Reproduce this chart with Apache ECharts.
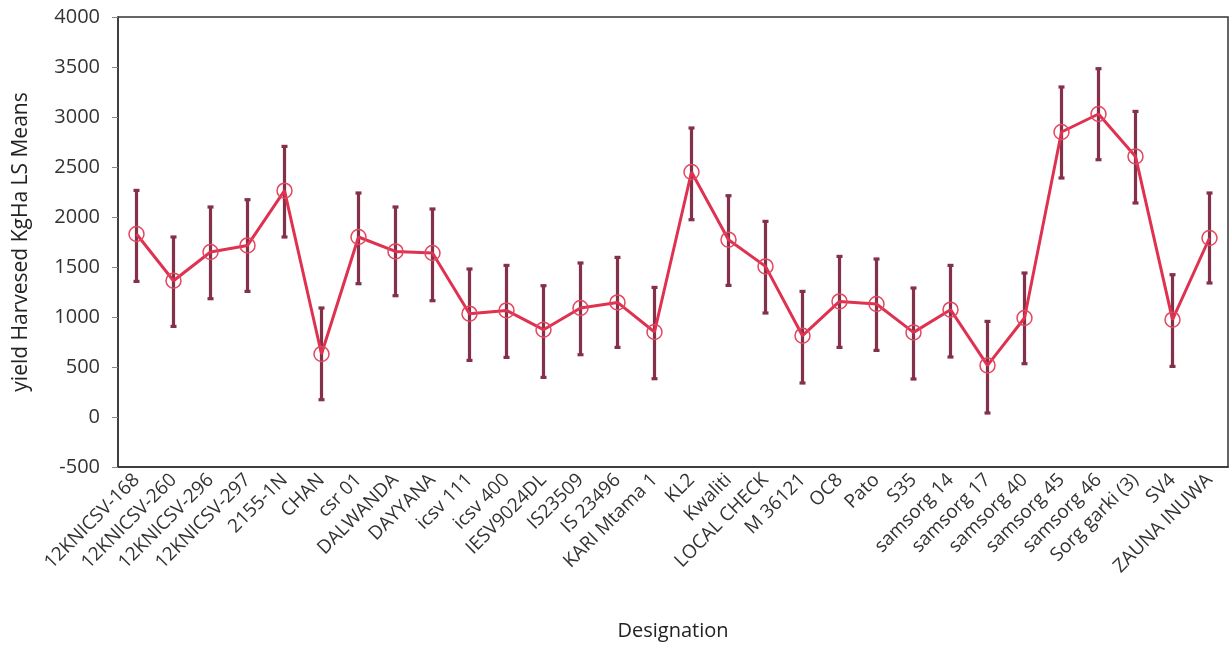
<!DOCTYPE html>
<html>
<head>
<meta charset="utf-8">
<script src="https://cdn.jsdelivr.net/npm/echarts@6/dist/echarts.min.js"></script>
<style>
html,body{margin:0;padding:0;background:#fff;}
#chart{width:1229px;height:646px;}
</style>
</head>
<body>
<div id="chart"></div>
<script>
const categories = ["12KNICSV-168","12KNICSV-260","12KNICSV-296","12KNICSV-297","2155-1N","CHAN","csr 01","DALWANDA","DAYYANA","icsv 111","icsv 400","IESV9024DL","IS23509","IS 23496","KARI Mtama 1","KL2","Kwaliti","LOCAL CHECK","M 36121","OC8","Pato","S35","samsorg 14","samsorg 17","samsorg 40","samsorg 45","samsorg 46","Sorg garki (3)","SV4","ZAUNA INUWA"];
const means = [1830,1363,1650,1716,2263,630,1800,1656,1640,1033,1066,873,1090,1146,850,2450,1773,1506,813,1156,1130,846,1073,516,990,2850,3030,2606,973,1790];
const upper = [2266,1800,2100,2173,2706,1090,2240,2100,2080,1480,1516,1313,1540,1596,1296,2890,2213,1956,1256,1606,1580,1290,1516,956,1440,3300,3483,3056,1423,2240];
const lower = [1356,906,1183,1256,1800,173,1333,1213,1163,566,596,396,623,696,383,1973,1316,1040,340,696,666,380,600,40,533,2390,2573,2140,506,1340];
const yTicks = {min:-500, max:4000, interval:500};

const errData = categories.map((c,i)=>[i, lower[i], upper[i]]);
const font = "'Open Sans', 'Noto Sans', sans-serif";
const chart = echarts.init(document.getElementById('chart'), null, {renderer:'canvas'});
chart.setOption({
  animation:false,
  backgroundColor:'#fff',
  grid:{left:118, right:1, top:17, bottom:178, show:true, borderColor:'#333', borderWidth:1.5, backgroundColor:'transparent'},
  xAxis:{
    type:'category', data:categories, boundaryGap:true,
    name:'Designation', nameLocation:'middle', nameGap:154,
    nameTextStyle:{fontFamily:font, fontSize:20, color:'#222'},
    axisLine:{show:true, onZero:false, lineStyle:{color:'#333', width:1.5}},
    axisTick:{show:false},
    axisLabel:{rotate:45, interval:0, margin:10, fontFamily:font, fontSize:19, color:'#333'},
    splitLine:{show:false}
  },
  yAxis:{
    type:'value', min:yTicks.min, max:yTicks.max, interval:yTicks.interval,
    name:'yield Harvesed KgHa LS Means', nameLocation:'middle', nameGap:86,
    nameTextStyle:{fontFamily:font, fontSize:21, color:'#222'},
    axisLine:{show:true, lineStyle:{color:'#333', width:1.5}},
    axisTick:{show:true, inside:false, length:6, lineStyle:{color:'#888'}},
    axisLabel:{margin:18, fontFamily:font, fontSize:20, color:'#333', formatter:function(v){return String(v);}},
    splitLine:{show:false}
  },
  series:[
    {
      type:'custom',
      data:errData,
      z:2,
      renderItem:function(params, api){
        const x = api.value(0);
        const lo = api.coord([x, api.value(1)]);
        const hi = api.coord([x, api.value(2)]);
        const cw = 3;
        const st = {stroke:'#853049', lineWidth:3.2};
        return {type:'group', children:[
          {type:'line', shape:{x1:lo[0], y1:lo[1], x2:hi[0], y2:hi[1]}, style:st},
          {type:'line', shape:{x1:hi[0]-cw, y1:hi[1], x2:hi[0]+cw, y2:hi[1]}, style:st},
          {type:'line', shape:{x1:lo[0]-cw, y1:lo[1], x2:lo[0]+cw, y2:lo[1]}, style:st}
        ]};
      },
      encode:{x:0, y:[1,2]}
    },
    {
      type:'line',
      data:means,
      z:3,
      symbol:'circle',
      symbolSize:15,
      showAllSymbol:true,
      lineStyle:{color:'#df3150', width:3},
      itemStyle:{color:'rgba(255,255,255,0)', borderColor:'#e3465f', borderWidth:1.5}
    }
  ]
});
</script>
</body>
</html>
